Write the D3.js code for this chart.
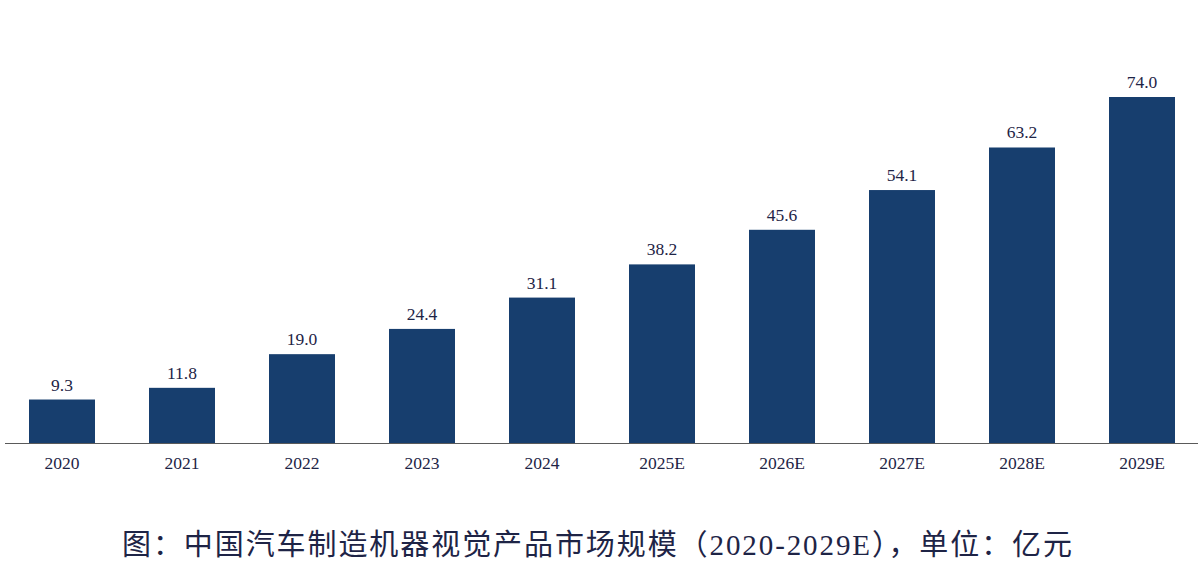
<!DOCTYPE html>
<html>
<head>
<meta charset="utf-8">
<script src="https://cdn.jsdelivr.net/npm/d3@7"></script>
<style>
  body { margin: 0; background: #fff; }
  svg { display: block; }
</style>
</head>
<body>
<div id="chart"></div>
<script>
// data
const years = ['2020', '2021', '2022', '2023', '2024', '2025E', '2026E', '2027E', '2028E', '2029E'];
const values = [9.3, 11.8, 19.0, 24.4, 31.1, 38.2, 45.6, 54.1, 63.2, 74.0];
const caption = '图：中国汽车制造机器视觉产品市场规模（2020-2029E），单位：亿元';

const w = 1198,
      h = 566,
      baseY = 443,
      topY = 97;

const svg = d3.select('#chart')
    .append('svg')
    .attr('width', w)
    .attr('height', h);

const xScale = d3.scaleBand()
    .domain(years)
    .range([2, 1202])
    .paddingInner(0.45)
    .paddingOuter(0.225);

const yScale = d3.scaleLinear()
    .domain([0, 74])
    .range([baseY, topY]);

// bars
svg.selectAll('rect.bar')
    .data(values)
    .enter()
    .append('rect')
    .attr('class', 'bar')
    .attr('x', (d, i) => xScale(years[i]))
    .attr('y', d => yScale(d))
    .attr('width', xScale.bandwidth())
    .attr('height', d => baseY - yScale(d))
    .attr('fill', '#173e6e');

// value labels
svg.selectAll('text.val')
    .data(values)
    .enter()
    .append('text')
    .attr('class', 'val')
    .text(d => d.toFixed(1))
    .attr('x', (d, i) => xScale(years[i]) + xScale.bandwidth() / 2)
    .attr('y', d => yScale(d) - 9)
    .attr('text-anchor', 'middle')
    .attr('font-family', '"Liberation Serif", serif')
    .attr('font-size', 17.5)
    .attr('fill', '#1e2446');

// x axis
const xAxis = d3.axisBottom(xScale).tickSize(0).tickPadding(14);
const gx = svg.append('g')
    .attr('transform', 'translate(0,' + baseY + ')')
    .call(xAxis);
gx.select('.domain').attr('d', 'M5,0.5H1198').attr('stroke', '#5a5a5a').attr('stroke-width', 1.2);
gx.selectAll('text')
    .attr('font-family', '"Liberation Serif", serif')
    .attr('font-size', 17.5)
    .attr('fill', '#1e2446');

// caption
svg.append('text')
    .text(caption)
    .attr('x', 122)
    .attr('y', 555)
    .attr('textLength', 950)
    .attr('lengthAdjust', 'spacing')
    .attr('font-family', '"Liberation Serif", "Noto Sans CJK SC", serif')
    .attr('font-size', 29)
    .attr('fill', '#1e2446');
</script>
</body>
</html>
